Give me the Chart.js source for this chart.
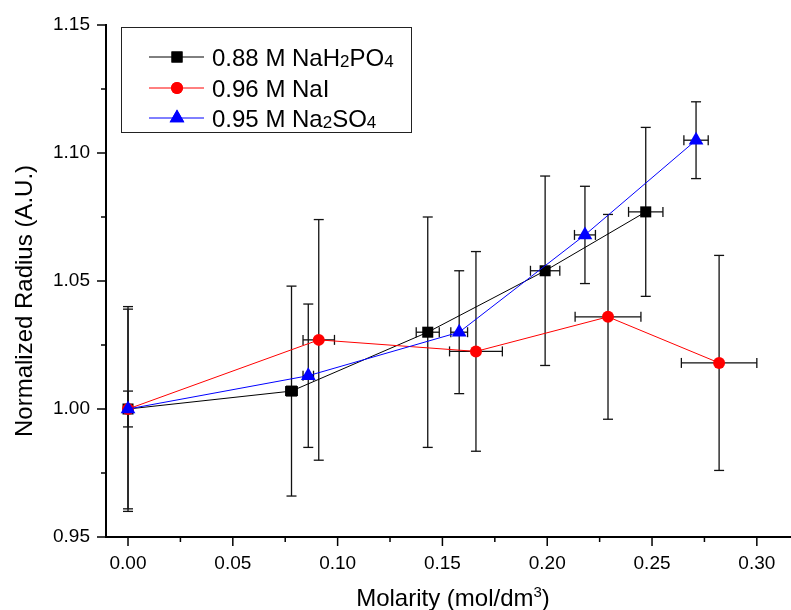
<!DOCTYPE html>
<html>
<head>
<meta charset="utf-8">
<title>Normalized Radius vs Molarity</title>
<script src="https://cdn.jsdelivr.net/npm/chart.js@4.4.0/dist/chart.umd.min.js"></script>
<style>
  body { margin: 0; background: #fff; }
</style>
</head>
<body>
<canvas id="radiusChart" width="791" height="610"></canvas>
<script>
// data
var phosphateX    = [0, 0.078, 0.143, 0.199, 0.247];
var phosphateY    = [1.000, 1.007, 1.030, 1.054, 1.077];
var phosphateYErr = [0.040, 0.041, 0.045, 0.037, 0.033];
var phosphateXErr = [0, 0.0028, 0.0055, 0.007, 0.0082];

var iodideX    = [0, 0.091, 0.166, 0.229, 0.282];
var iodideY    = [1.000, 1.027, 1.0225, 1.036, 1.018];
var iodideYErr = [0.039, 0.047, 0.039, 0.040, 0.042];
var iodideXErr = [0, 0.0075, 0.0126, 0.0157, 0.018];

var sulfateX    = [0, 0.086, 0.158, 0.218, 0.271];
var sulfateY    = [1.000, 1.013, 1.030, 1.068, 1.105];
var sulfateYErr = [0.007, 0.028, 0.024, 0.019, 0.015];
var sulfateXErr = [0, 0.0025, 0.004, 0.005, 0.0058];

var seriesNames = ['0.88 M NaH2PO4', '0.96 M NaI', '0.95 M Na2SO4'];
var xTickValues = [0, 0.05, 0.10, 0.15, 0.20, 0.25, 0.30];
var yTickValues = [0.95, 1.00, 1.05, 1.10, 1.15];

var FONT = "'Liberation Sans', Arial, sans-serif";

var series = [
  { x: phosphateX, y: phosphateY, yErr: phosphateYErr, xErr: phosphateXErr, color: '#000000', style: 'rect', r: 7.8 },
  { x: iodideX, y: iodideY, yErr: iodideYErr, xErr: iodideXErr, color: '#ff0000', style: 'circle', r: 6 },
  { x: sulfateX, y: sulfateY, yErr: sulfateYErr, xErr: sulfateXErr, color: '#0000ff', style: 'triangle', r: 8.5 }
];

function toPoints(xs, ys) {
  return xs.map(function (v, i) { return { x: v, y: ys[i] }; });
}

function line(ctx, x1, y1, x2, y2) {
  ctx.beginPath();
  ctx.moveTo(x1, y1);
  ctx.lineTo(x2, y2);
  ctx.stroke();
}

// text with chemical subscripts (digits right after a letter)
function drawChem(ctx, text, x, y, size) {
  var parts = text.split(/([A-Za-z])(\d+)/);
  var pieces = [];
  for (var i = 0; i < parts.length; i++) {
    if (i % 3 === 2) pieces.push({ t: parts[i], sub: true });
    else if (parts[i]) pieces.push({ t: parts[i], sub: false });
  }
  pieces.forEach(function (p) {
    ctx.font = (p.sub ? Math.round(size * 0.72) : size) + 'px ' + FONT;
    ctx.fillText(p.t, x, p.sub ? y + 1 : y);
    x += ctx.measureText(p.t).width;
  });
}

var extrasPlugin = {
  id: 'extras',
  beforeDatasetsDraw: function (chart) {
    var ctx = chart.ctx, xs = chart.scales.x, ys = chart.scales.y;
    ctx.save();
    ctx.strokeStyle = '#111';
    ctx.lineWidth = 1.3;
    series.forEach(function (s) {
      s.x.forEach(function (xv, i) {
        var px = xs.getPixelForValue(xv);
        var py = ys.getPixelForValue(s.y[i]);
        var top = ys.getPixelForValue(s.y[i] + s.yErr[i]);
        var bot = ys.getPixelForValue(s.y[i] - s.yErr[i]);
        line(ctx, px, top, px, bot);
        line(ctx, px - 5, top, px + 5, top);
        line(ctx, px - 5, bot, px + 5, bot);
        if (s.xErr[i] > 0) {
          var lft = xs.getPixelForValue(xv - s.xErr[i]);
          var rgt = xs.getPixelForValue(xv + s.xErr[i]);
          line(ctx, lft, py, rgt, py);
          line(ctx, lft, py - 5, lft, py + 5);
          line(ctx, rgt, py - 5, rgt, py + 5);
        }
      });
    });
    ctx.restore();
  },
  afterDraw: function (chart) {
    var ctx = chart.ctx, xs = chart.scales.x, ys = chart.scales.y;
    var area = chart.chartArea;
    ctx.save();
    ctx.strokeStyle = '#000';
    ctx.lineWidth = 1.5;
    // major + minor ticks, outward
    var k;
    for (k = 0; k < yTickValues.length; k++) {
      var yp = ys.getPixelForValue(yTickValues[k]);
      line(ctx, area.left - 9, yp, area.left, yp);
      if (k < yTickValues.length - 1) {
        var ym = ys.getPixelForValue((yTickValues[k] + yTickValues[k + 1]) / 2);
        line(ctx, area.left - 5, ym, area.left, ym);
      }
    }
    for (k = 0; k < xTickValues.length; k++) {
      var xp = xs.getPixelForValue(xTickValues[k]);
      line(ctx, xp, area.bottom, xp, area.bottom + 9);
      if (k < xTickValues.length - 1) {
        var xm = xs.getPixelForValue((xTickValues[k] + xTickValues[k + 1]) / 2);
        line(ctx, xm, area.bottom, xm, area.bottom + 5);
      }
    }

    // axis titles
    ctx.fillStyle = '#000';
    ctx.textBaseline = 'alphabetic';
    ctx.save();
    ctx.translate(32, 301);
    ctx.rotate(-Math.PI / 2);
    ctx.textAlign = 'center';
    ctx.font = '24px ' + FONT;
    ctx.fillText('Normalized Radius (A.U.)', 0, 0);
    ctx.restore();

    ctx.textAlign = 'left';
    ctx.font = '24px ' + FONT;
    var t1 = 'Molarity (mol/dm';
    var w1 = ctx.measureText(t1).width;
    ctx.font = '15px ' + FONT;
    var w2 = ctx.measureText('3').width;
    ctx.font = '24px ' + FONT;
    var w3 = ctx.measureText(')').width;
    var startX = 453 - (w1 + w2 + w3) / 2;
    ctx.fillText(t1, startX, 606);
    ctx.font = '15px ' + FONT;
    ctx.fillText('3', startX + w1, 597);
    ctx.font = '24px ' + FONT;
    ctx.fillText(')', startX + w1 + w2, 606);

    // legend
    ctx.lineWidth = 1;
    ctx.strokeStyle = '#222';
    ctx.strokeRect(121.5, 27.5, 290, 105);
    var rows = [57, 88, 118];
    series.forEach(function (s, i) {
      var ry = rows[i];
      ctx.strokeStyle = s.color;
      ctx.lineWidth = 1;
      line(ctx, 149, ry, 204, ry);
      ctx.fillStyle = s.color;
      Chart.helpers.drawPoint(ctx, { pointStyle: s.style, radius: s.r, borderWidth: 0 }, 177, ry);
      ctx.fill();
      ctx.fillStyle = '#000';
      ctx.textBaseline = 'alphabetic';
      drawChem(ctx, seriesNames[i], 212, ry + 9, 24);
    });
    ctx.restore();
  }
};

function makeDataset(s, i, order) {
  return {
    label: seriesNames[i],
    data: toPoints(s.x, s.y),
    showLine: true,
    borderColor: s.color,
    borderWidth: 1,
    backgroundColor: s.color,
    pointBackgroundColor: s.color,
    pointBorderColor: s.color,
    pointBorderWidth: 0,
    pointStyle: s.style,
    pointRadius: s.r,
    tension: 0,
    clip: false,
    order: order
  };
}

new Chart(document.getElementById('radiusChart').getContext('2d'), {
  type: 'scatter',
  data: {
    datasets: [
      makeDataset(series[0], 0, 2),
      makeDataset(series[1], 1, 1),
      makeDataset(series[2], 2, 0)
    ]
  },
  options: {
    responsive: false,
    animation: false,
    layout: { autoPadding: false, padding: { top: 25, right: 0, left: 0, bottom: 0 } },
    plugins: {
      legend: { display: false },
      tooltip: { enabled: false }
    },
    scales: {
      x: {
        type: 'linear',
        min: -0.0105,
        max: 0.3163,
        afterBuildTicks: function (scale) {
          scale.ticks = xTickValues.map(function (v) { return { value: v }; });
        },
        afterFit: function (scale) {
          scale.height = 73;
          scale.paddingLeft = 0;
          scale.paddingRight = 0;
        },
        grid: { display: false, drawTicks: false },
        border: { display: true, color: '#000', width: 2 },
        ticks: {
          color: '#000',
          font: { size: 19, family: FONT },
          padding: 15,
          maxRotation: 0,
          callback: function (v) { return Number(v).toFixed(2); }
        }
      },
      y: {
        type: 'linear',
        min: 0.95,
        max: 1.15,
        afterBuildTicks: function (scale) {
          scale.ticks = yTickValues.map(function (v) { return { value: v }; });
        },
        afterFit: function (scale) {
          scale.width = 106;
          scale.paddingTop = 0;
          scale.paddingBottom = 0;
        },
        grid: { display: false, drawTicks: false },
        border: { display: true, color: '#000', width: 2 },
        ticks: {
          color: '#000',
          font: { size: 19, family: FONT },
          padding: 16,
          callback: function (v) { return Number(v).toFixed(2); }
        }
      }
    }
  },
  plugins: [extrasPlugin]
});
</script>
</body>
</html>
